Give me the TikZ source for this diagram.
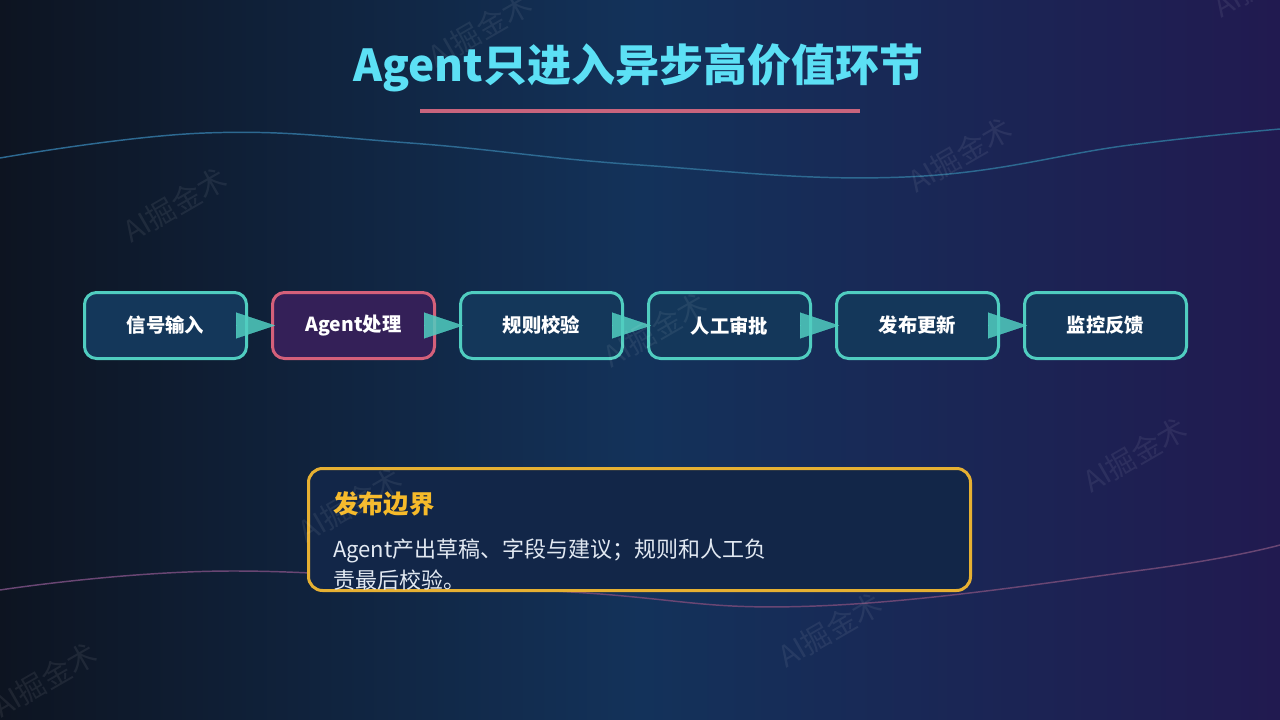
\documentclass[tikz,border=0pt]{standalone}
\usepackage{fontspec}
\setmainfont{Noto Sans CJK SC}
\usetikzlibrary{arrows.meta}
\definecolor{bgleft}{RGB}{13,20,33}
\definecolor{bgmid}{RGB}{19,50,90}
\definecolor{bgright}{RGB}{33,26,80}
\definecolor{titlecyan}{RGB}{92,224,245}
\definecolor{underpink}{RGB}{200,100,125}
\definecolor{tealline}{RGB}{80,205,192}
\definecolor{boxfill}{RGB}{20,55,90}
\definecolor{pinkline}{RGB}{212,96,122}
\definecolor{purplefill}{RGB}{52,32,88}
\definecolor{goldline}{RGB}{230,176,50}
\definecolor{goldtext}{RGB}{246,186,42}
\definecolor{cardfill}{RGB}{18,38,72}
\definecolor{bodytext}{RGB}{226,233,242}
\definecolor{waveblue}{RGB}{45,105,145}
\definecolor{wavepink}{RGB}{105,70,115}

\begin{document}
\begin{tikzpicture}[x=0.75pt,y=-0.75pt,
  box/.style={draw=tealline,fill=boxfill,line width=2.25pt,rounded corners=9pt,
    minimum width=121.5pt,minimum height=49.5pt,text=white,
    font=\fontsize{14.5pt}{17pt}\selectfont\bfseries},
  flow/.style={-{Triangle[length=29.25pt,width=19.5pt]},line width=0.2pt,
    draw=tealline,fill=tealline,opacity=0.85},
  card/.style={draw=goldline,fill=cardfill,line width=2.25pt,rounded corners=10.5pt,
    minimum width=496.5pt,minimum height=91.5pt},
  wmark/.style={rotate=30,text=white,opacity=0.07,font=\fontsize{22pt}{26pt}\selectfont}]
\useasboundingbox (0,0) rectangle (1280,720);
\shade[left color=bgleft,right color=bgright,middle color=bgmid] (0,0) rectangle (1280,720);

\draw[waveblue,line width=1.1pt] plot[smooth,tension=0.7] coordinates
  {(0,158) (205,133) (410,143) (640,165) (905,177) (1130,145) (1280,129)};
\draw[wavepink,line width=1.1pt] plot[smooth,tension=0.7] coordinates
  {(0,590) (237,571) (571,592) (816,606) (1143,570) (1280,545)};

\node[text=titlecyan,font=\fontsize{33pt}{40pt}\selectfont\bfseries] (title) at (638,68)
  {Agent只进入异步高价值环节};
\draw[underpink,line width=3pt] (420,111) -- (860,111);

\foreach \i/\c/\f/\t in {1/tealline/boxfill/信号输入,2/pinkline/purplefill/Agent处理,
  3/tealline/boxfill/规则校验,4/tealline/boxfill/人工审批,5/tealline/boxfill/发布更新,
  6/tealline/boxfill/监控反馈}
\node[box,draw=\c,fill=\f] (b\i) at ({165.5+188*(\i-1)},325.5) {\t};

\foreach \i [evaluate=\i as \j using int(\i+1)] in {1,...,5}
\draw[flow] ([xshift=-9pt]b\i.east) -- ([xshift=3pt]b\j.west);

\node[card] (card) at (639.5,529.5) {};
\node[anchor=base west,inner sep=0,text=goldtext,font=\fontsize{19pt}{23pt}\selectfont\bfseries]
  (cardtitle) at (333,513) {发布边界};
\node[anchor=north west,inner sep=0,align=left,text=bodytext,font=\fontsize{16.5pt}{23.25pt}\selectfont]
  (cardbody) at (333,539) {Agent产出草稿、字段与建议；规则和人工负\\责最后校验。};

\foreach \i in {-1,...,3}
\foreach \j in {0,1,2}
\node[wmark] at ({175+305*\i+175*\j},{205-175*\i+300*\j}) {AI掘金术};
\end{tikzpicture}
\end{document}
